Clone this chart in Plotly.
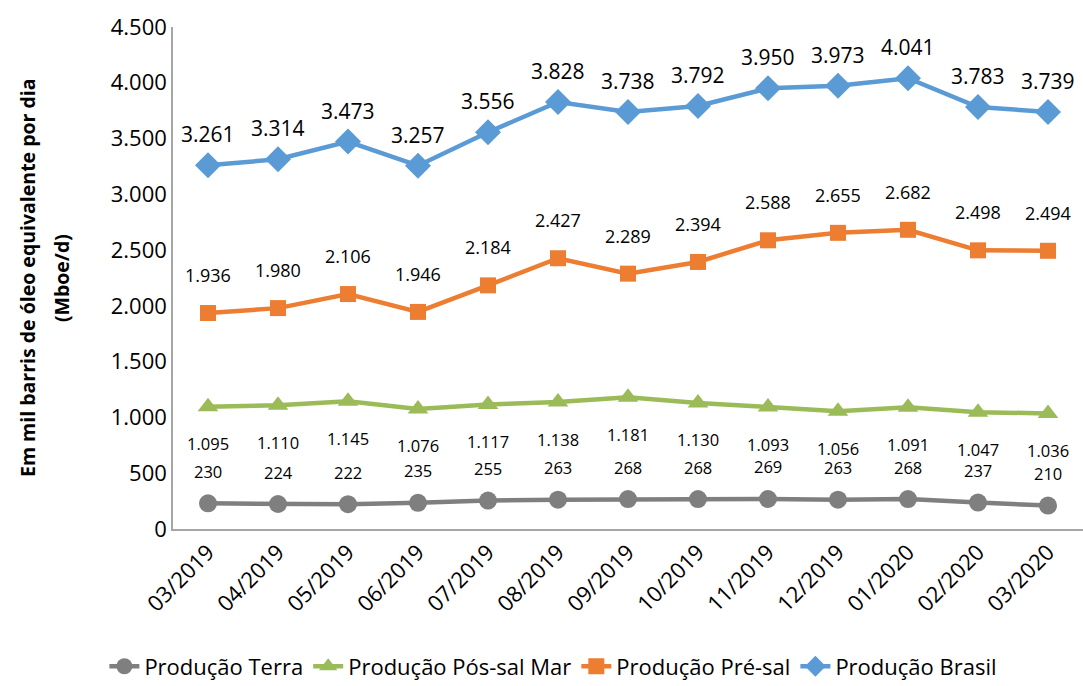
import plotly.graph_objects as go

meses = ["03/2019","04/2019","05/2019","06/2019","07/2019","08/2019","09/2019",
         "10/2019","11/2019","12/2019","01/2020","02/2020","03/2020"]
terra = [230,224,222,235,255,263,268,268,269,263,268,237,210]
pos_sal = [1095,1110,1145,1076,1117,1138,1181,1130,1093,1056,1091,1047,1036]
pre_sal = [1936,1980,2106,1946,2184,2427,2289,2394,2588,2655,2682,2498,2494]
brasil = [3261,3314,3473,3257,3556,3828,3738,3792,3950,3973,4041,3783,3739]
titulo_y = ["Em mil barris de óleo equivalente por dia", "(Mboe/d)"]

def fmt(v):
    return f"{v:,}".replace(",", ".")

FONT = "Open Sans"
fig = go.Figure()
series = [
    ("Produção Terra", terra, "#7F7F7F", "circle", 18, 32, 16.5),
    ("Produção Pós-sal Mar", pos_sal, "#9BBB59", "triangle-up", 18, -37, 16.5),
    ("Produção Pré-sal", pre_sal, "#ED7D31", "square", 16, 38, 18),
    ("Produção Brasil", brasil, "#5B9BD5", "diamond", 20, 31, 21),
]
for name, vals, col, sym, ms, shift, fs in series:
    fig.add_trace(go.Scatter(x=meses, y=vals, name=name, mode="lines+markers",
                             line=dict(color=col, width=4.5),
                             marker=dict(color=col, symbol=sym, size=ms)))
    for m, v in zip(meses, vals):
        fig.add_annotation(x=m, y=v, text=fmt(v), showarrow=False, yshift=shift,
                           font=dict(family=FONT, size=fs, color="#000"))

for txt, xp in zip(titulo_y, [-0.1604, -0.123]):
    fig.add_annotation(xref="paper", yref="paper", x=xp, y=0.5, text=f"<b>{txt}</b>",
                       textangle=-90, showarrow=False, xanchor="center", yanchor="middle",
                       font=dict(family=FONT, size=19.5, color="#000"))

fig.update_layout(
    width=1083, height=686, plot_bgcolor="white", paper_bgcolor="white",
    margin=dict(l=173, r=0, t=27, b=157, autoexpand=False),
    font=dict(family=FONT, color="#000"),
    showlegend=True,
    legend=dict(orientation="h", x=0.418, xanchor="center", y=-0.232, yanchor="top",
                font=dict(size=22, family=FONT), tracegroupgap=0),
)
fig.update_xaxes(range=[-0.5, 12.5], showline=True, linecolor="#A6A6A6", linewidth=1.5,
                 tickangle=-45, tickfont=dict(size=22, family=FONT), ticks="",
                 showgrid=False, automargin=False)
fig.update_yaxes(range=[0, 4500], tickvals=list(range(0, 4501, 500)),
                 ticktext=[fmt(v) for v in range(0, 4501, 500)],
                 showline=True, linecolor="#A6A6A6", linewidth=1.5, showgrid=False,
                 tickfont=dict(size=22, family=FONT), ticks="", zeroline=False,
                 automargin=False)
fig.write_html("out.html", config={"displayModeBar": False},
               post_script="document.body.style.margin='0px';")
